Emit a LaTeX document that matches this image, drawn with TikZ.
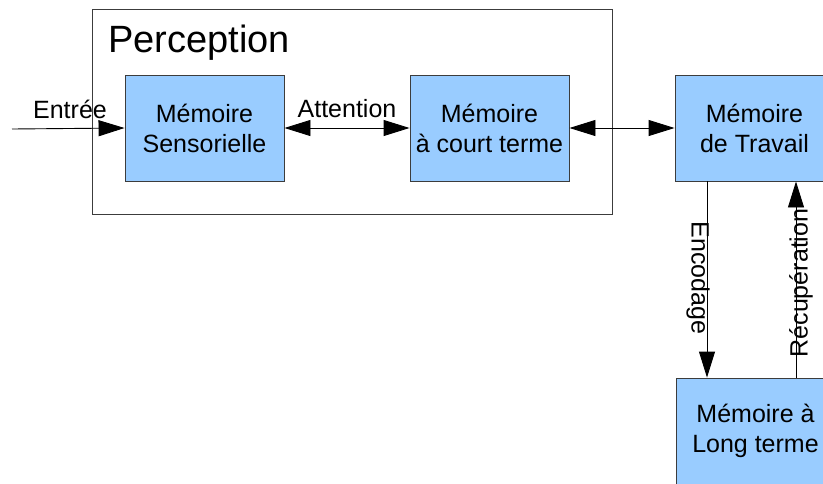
\documentclass[tikz,border=0pt]{standalone}
\usepackage{fontspec}
\setmainfont{Liberation Sans}
\usetikzlibrary{arrows.meta}
\definecolor{boxblue}{HTML}{99CCFF}
\definecolor{boxline}{HTML}{3C3C3C}
\tikzset{
  memory/.style={draw=boxline, line width=0.9pt, fill=boxblue, minimum width=159pt, minimum height=106pt, inner sep=0pt, align=center, font=\fontsize{25}{30}\selectfont},
  lbl/.style={inner sep=0pt, font=\fontsize{25}{30}\selectfont},
  conn/.style={line width=0.9pt, -{Triangle[length=26pt,width=16pt]}},
  conn2/.style={line width=0.9pt, {Triangle[length=26pt,width=16pt]}-{Triangle[length=26pt,width=16pt]}},
}
\begin{document}
\begin{tikzpicture}[x=1pt,y=-1pt]
\useasboundingbox (0,0) rectangle (823,483);
\clip (0,0) rectangle (823,483);
\node[draw=boxline, line width=0.9pt, minimum width=520pt, minimum height=205pt, inner sep=0pt] (perception) at (352.5,111.5) {};
\node[anchor=base west, inner sep=0pt, font=\fontsize{38}{44}\selectfont] (ptitle) at (108,52) {Perception};
\node[memory] (sens) at (204.5,128) {Mémoire\\Sensorielle};
\node[memory] (court) at (489.5,128) {Mémoire\\à court terme};
\node[memory] (trav) at (754.5,128) {Mémoire\\de Travail};
\node[memory] (long) at (755.5,431) {Mémoire à\\Long terme};
\coordinate (in) at (12,129);
\coordinate (enc) at (707,0);
\coordinate (rec) at (796,0);
\draw[conn] (in) -- (sens.west);
\node[lbl] (entree) at (70,109) {Entrée};
\draw[conn2] (sens.east) -- (court.west);
\node[lbl] (attention) at (347,109) {Attention};
\draw[conn2] (court.east) -- (trav.west);
\draw[conn] (trav.south -| enc) -- (long.north -| enc);
\draw[conn] (long.north -| rec) -- (trav.south -| rec);
\node[lbl, rotate=-90] (encodage) at (698,278) {Encodage};
\node[lbl, rotate=90] (recup) at (801,283) {Récupération};
\end{tikzpicture}
\end{document}
